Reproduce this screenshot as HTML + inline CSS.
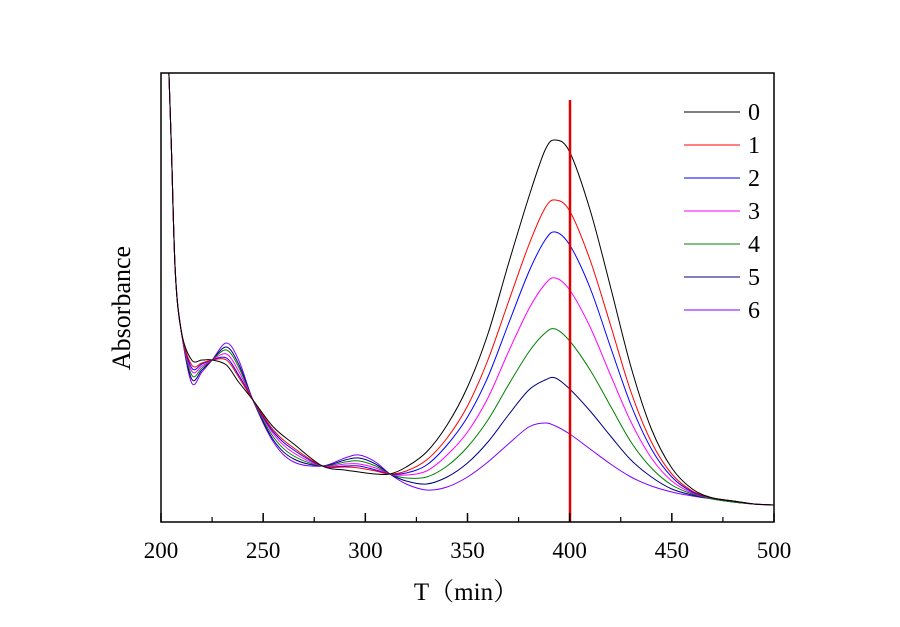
<!DOCTYPE html>
<html><head><meta charset="utf-8"><style>
body{margin:0;background:#fff}
svg{display:block}
text{font-family:"Liberation Serif","Noto Serif CJK SC",serif;fill:#000}
</style></head><body>
<svg id="chart" width="900" height="627" viewBox="0 0 900 627" xmlns="http://www.w3.org/2000/svg">
<defs><clipPath id="pc"><rect x="161" y="73" width="613" height="449"/></clipPath></defs>
<g id="series" clip-path="url(#pc)"></g>
<line x1="570" y1="100" x2="570" y2="522" stroke="#e00000" stroke-width="2.5"/>
<rect x="161" y="73" width="613" height="449" fill="none" stroke="#000" stroke-width="1.5"/>
<g id="ticks"></g>
<g id="legend"></g>
<text x="466" y="600" font-size="25" text-anchor="middle">T（min）</text>
<text transform="translate(130,308) rotate(-90)" font-size="26" text-anchor="middle">Absorbance</text>
</svg>
<script>
const wavelengths=[203,205,207,210,215,220,225,232,238,245,255,265,279,290,297,305,312,320,330,340,350,360,370,380,388,393,400,410,420,430,440,450,460,470,480,490,500];
const s0=[500,380,250,190,162,162,162,157,140,122,95,78,56,52,50,48,48,55,70,97,135,188,258,325,372,382,370,312,235,155,93,54,33,24,21,18,17];
const s1=[500,380,250,190,157,159,162,162,145,122,92,74,56,55,54,51,48,51,62,84,116,162,220,277,314,322,311,262,197,130,80,48,31,24,21,18,17];
const s2=[500,380,250,190,154,158,162,164,147,122,90,72,56,56,56,52,48,49,57,77,105,145,198,250,282,290,277,234,175,117,73,45,30,24,21,18,17];
const s3=[500,380,250,190,151,156,162,168,151,122,88,69,56,58,58,54,48,47,51,67,90,124,170,213,238,244,232,195,147,100,64,41,29,24,21,18,17];
const s4=[500,380,250,190,147,154,162,172,155,122,85,66,56,60,61,56,48,44,45,56,75,102,137,170,189,193,181,152,116,80,54,37,28,23,20,18,17];
const s5=[500,380,250,190,143,152,162,175,158,122,82,63,56,62,64,58,48,41,38,45,59,80,107,132,142,144,133,111,86,62,45,33,27,23,20,18,17];
const s6=[500,380,250,190,139,150,162,179,162,122,80,60,56,64,67,60,48,38,32,35,45,60,78,95,99,96,88,73,58,45,36,30,26,23,20,18,17];
const seriesNames=["0","1","2","3","4","5","6"];
const seriesData=[s0,s1,s2,s3,s4,s5,s6];
const colors=["#000000","#ff0000","#0000ff","#ff00ff","#008000","#000080","#8000ff"];
const xTicks=[200,250,300,350,400,450,500];
const xMinor=[225,275,325,375,425,475];
const NS="http://www.w3.org/2000/svg";
const xs=v=>161+(v-200)*613/300;
const ys=v=>522-v*449/449;
function mk(t,a,p){const e=document.createElementNS(NS,t);for(const k in a)e.setAttribute(k,a[k]);p.appendChild(e);return e;}
function smooth(pts){let d=`M${pts[0][0]},${pts[0][1]}`;for(let i=0;i<pts.length-1;i++){const p0=pts[Math.max(0,i-1)],p1=pts[i],p2=pts[i+1],p3=pts[Math.min(pts.length-1,i+2)];const c1=[p1[0]+(p2[0]-p0[0])/6,p1[1]+(p2[1]-p0[1])/6],c2=[p2[0]-(p3[0]-p1[0])/6,p2[1]-(p3[1]-p1[1])/6];d+=`C${c1[0].toFixed(1)},${c1[1].toFixed(1)} ${c2[0].toFixed(1)},${c2[1].toFixed(1)} ${p2[0].toFixed(1)},${p2[1].toFixed(1)}`;}return d;}
const sg=document.getElementById('series');
for(let k=seriesData.length-1;k>=0;k--){
 const pts=wavelengths.map((w,i)=>[xs(w),ys(seriesData[k][i])]);
 const p=mk('path',{d:smooth(pts),fill:'none',stroke:colors[k],'stroke-width':1},sg);
 
 
}
const tg=document.getElementById('ticks');
xTicks.forEach(t=>{
 const l=mk('line',{x1:xs(t),x2:xs(t),y1:522,y2:513,stroke:'#000','stroke-width':1.5},tg);
 
 
 const tx=mk('text',{x:xs(t),y:558,'font-size':23,'text-anchor':'middle'},tg);
 tx.textContent=t;
 
 
});
xMinor.forEach(t=>{
 const l=mk('line',{x1:xs(t),x2:xs(t),y1:522,y2:517,stroke:'#000','stroke-width':1.2},tg);
 
 
});
const lg=document.getElementById('legend');
seriesNames.forEach((n,i)=>{
 const y=112+i*33;
 const l=mk('line',{x1:684,x2:740,y1:y,y2:y,stroke:colors[i],'stroke-width':1},lg);
 
 
 const t=mk('text',{x:748,y:y+8,'font-size':24},lg);
 t.textContent=n;
 
 
});
</script>
</body></html>
